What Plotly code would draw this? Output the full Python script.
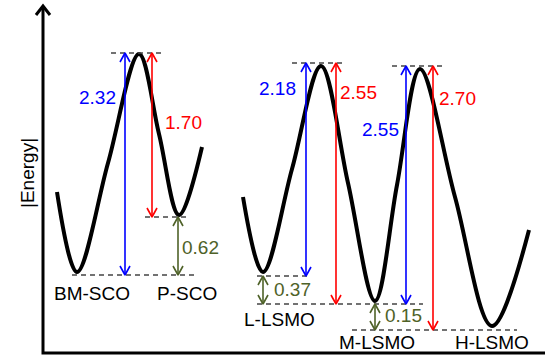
import plotly.graph_objects as go

# Diagram coordinates: x to the right, y = height above the bottom (schematic energy scale)
H = 356

# Energy landscape curves (key points: ends, minima, inflections, maxima)
sco_x = [57, 77, 108, 139, 159, 179, 202]
sco_y = [164, 84, 193, 302, 222, 141, 209]

lsmo_x = [243, 263, 292, 321, 348, 375, 397, 420, 455, 492, 529]
lsmo_y = [159, 84, 187, 290, 173, 55, 171, 287, 159, 30, 126]

# Dashed reference levels: (y, x0, x1)
level_y = [303, 139, 81, 293, 290, 80, 52, 26]
level_x0 = [111, 145, 72, 292, 392, 257, 257, 352]
level_x1 = [163, 188, 195, 345, 445, 310, 423, 517]

# Double-headed arrows: x, top y, bottom y, colour
arrow_x = [125, 152, 178, 306, 336, 263, 406, 433, 375]
arrow_top = [303, 303, 139, 293, 293, 80, 290, 290, 52]
arrow_bot = [81, 139, 81, 80, 52, 52, 52, 26, 26]
arrow_col = ["blue", "red", "green", "blue", "red", "green", "blue", "red", "green"]

# Value labels
val_text = ["2.32", "1.70", "0.62", "2.18", "2.55", "2.55", "2.70", "0.37", "0.15"]
val_x = [97, 183, 200, 277, 358, 380, 457, 292, 403]
val_y = [259, 234, 109, 268, 264, 227, 258, 67, 41]
val_col = ["blue", "red", "green", "blue", "red", "blue", "red", "green", "green"]

# Phase labels
phase_text = ["BM-SCO", "P-SCO", "L-LSMO", "M-LSMO", "H-LSMO"]
phase_x = [92, 187, 279, 377, 492]
phase_y = [63, 63, 37, 14, 14]

COLORS = {"blue": "#0000ff", "red": "#ff0000", "green": "#4f6228"}
FONT = "Liberation Sans, Arial, sans-serif"
FS = 19

fig = go.Figure()

# curves
for cx, cy in [(sco_x, sco_y), (lsmo_x, lsmo_y)]:
    fig.add_trace(go.Scatter(x=cx, y=cy, mode="lines",
                             line=dict(color="black", width=4, shape="spline", smoothing=1.0),
                             hoverinfo="skip", showlegend=False))

# dashed levels
for ly, x0, x1 in zip(level_y, level_x0, level_x1):
    fig.add_trace(go.Scatter(x=[x0, x1], y=[ly, ly], mode="lines",
                             line=dict(color="#444444", width=1.3, dash="5px,4px"),
                             hoverinfo="skip", showlegend=False))

# arrows
hw, hh = 5, 9
for ax, at, ab, ac in zip(arrow_x, arrow_top, arrow_bot, arrow_col):
    xs = [ax, ax, None, ax - hw, ax, ax + hw, None, ax - hw, ax, ax + hw]
    ys = [at, ab, None, at - hh, at, at - hh, None, ab + hh, ab, ab + hh]
    fig.add_trace(go.Scatter(x=xs, y=ys, mode="lines",
                             line=dict(color=COLORS[ac], width=1.6),
                             hoverinfo="skip", showlegend=False))

# axes (arrowed y axis, plain x axis)
ax0 = 43
fig.add_trace(go.Scatter(x=[ax0, ax0, 545, None, ax0 - 7, ax0, ax0 + 7],
                         y=[H - 6, 3, 3, None, H - 15, H - 6, H - 15],
                         mode="lines", line=dict(color="black", width=3),
                         hoverinfo="skip", showlegend=False))

annotations = []
for t, x, y, c in zip(val_text, val_x, val_y, val_col):
    annotations.append(dict(x=x, y=y, text=t, showarrow=False,
                            font=dict(family=FONT, size=FS, color=COLORS[c])))
for t, x, y in zip(phase_text, phase_x, phase_y):
    annotations.append(dict(x=x, y=y, text=t, showarrow=False,
                            font=dict(family=FONT, size=FS, color="black")))
annotations.append(dict(x=27, y=H - 173, text="|Energy|", textangle=-90, showarrow=False,
                        font=dict(family=FONT, size=FS, color="black")))

fig.update_layout(
    width=554, height=356,
    margin=dict(l=0, r=0, t=0, b=0),
    paper_bgcolor="white", plot_bgcolor="white",
    xaxis=dict(range=[0, 554], visible=False, fixedrange=True),
    yaxis=dict(range=[0, H], visible=False, fixedrange=True),
    annotations=annotations,
)

fig.write_html("out.html", config={"displayModeBar": False},
               post_script="document.body.style.margin='0';document.body.style.overflow='hidden';")
